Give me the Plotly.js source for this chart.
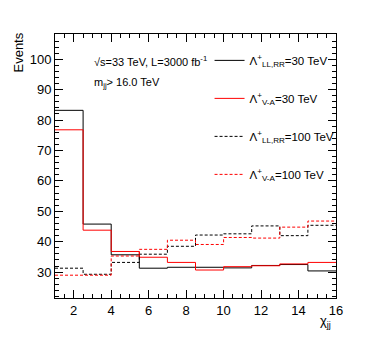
<!DOCTYPE html>
<html>
<head>
<meta charset="utf-8">
<script src="https://cdn.plot.ly/plotly-3.0.1.min.js"></script>
<style>
  body { margin: 0; background: #fff; }
  #chart { width: 374px; height: 351px; }
</style>
</head>
<body>
<div id="chart"></div>
<script>
// bin edges of chi_jj (10 bins, width 1.5)
let binEdges = [1, 2.5, 4, 5.5, 7, 8.5, 10, 11.5, 13, 14.5, 16];

// events per bin
let llrr30 = [83.2, 45.8, 35.7, 31.3, 31.6, 31.6, 31.4, 32.2, 32.5, 30.4];
let va30 = [76.8, 43.8, 36.8, 34.9, 33.2, 30.7, 31.8, 32.1, 32.7, 33.2];
let llrr100 = [31.3, 29.3, 33.2, 35.9, 38.5, 42.2, 42.6, 45.2, 42.0, 45.4];
let va100 = [29.0, 29.0, 35.3, 37.5, 40.5, 39.1, 41.4, 41.2, 44.8, 46.8];

let names = [
  "Λ<sup>+</sup><sub>LL,RR</sub>=30 TeV",
  "Λ<sup>+</sup><sub>V-A</sub>=30 TeV",
  "Λ<sup>+</sup><sub>LL,RR</sub>=100 TeV",
  "Λ<sup>+</sup><sub>V-A</sub>=100 TeV"
];

// step histogram: repeat last value so the step reaches the right edge
function histTrace(vals, name, color, dash, grp) {
  return {
    x: binEdges,
    y: vals.concat([vals[vals.length - 1]]),
    name: name,
    type: "scatter",
    mode: "lines",
    line: { shape: "hv", color: color, width: 1, dash: dash },
    legendgroup: grp,
    hoverinfo: "skip"
  };
}

var data = [
  histTrace(llrr30, names[0], "#000000", "solid", "a"),
  histTrace(va30, names[1], "#ff0000", "solid", "b"),
  histTrace(llrr100, names[2], "#000000", "3px,2px", "c"),
  histTrace(va100, names[3], "#ff0000", "3px,2px", "d")
];

var fam = "Liberation Sans, Arial, sans-serif";
var axisFont = { family: fam, size: 13, color: "#000" };

var layout = {
  width: 374,
  height: 351,
  margin: { l: 55, r: 38, t: 34, b: 53 },
  paper_bgcolor: "#fff",
  plot_bgcolor: "#fff",
  font: axisFont,
  showlegend: true,
  legend: {
    x: 0.55,
    y: 0.955,
    xanchor: "left",
    yanchor: "top",
    bgcolor: "rgba(0,0,0,0)",
    tracegroupgap: 19,
    font: { family: fam, size: 11.5, color: "#000" }
  },
  xaxis: {
    range: [1, 16],
    showgrid: false,
    zeroline: false,
    showline: true,
    linecolor: "#000",
    linewidth: 1,
    mirror: "allticks",
    ticks: "inside",
    ticklen: 8,
    tickcolor: "#000",
    dtick: 2,
    tick0: 0,
    minor: { dtick: 0.5, ticks: "inside", ticklen: 4, tickcolor: "#000", showgrid: false },
    tickfont: axisFont
  },
  yaxis: {
    range: [21.5, 108.3],
    showgrid: false,
    zeroline: false,
    showline: true,
    linecolor: "#000",
    linewidth: 1,
    mirror: "allticks",
    ticks: "inside",
    ticklen: 8,
    tickcolor: "#000",
    dtick: 10,
    tick0: 0,
    minor: { dtick: 2, ticks: "inside", ticklen: 4, tickcolor: "#000", showgrid: false },
    tickfont: axisFont
  },
  annotations: [
    {
      text: "Events",
      xref: "paper", yref: "paper",
      x: -0.13, y: 1.015,
      xanchor: "center", yanchor: "top",
      textangle: -90,
      showarrow: false,
      font: { family: fam, size: 13, color: "#000" }
    },
    {
      text: "χ<sub>jj</sub>",
      xref: "paper", yref: "paper",
      x: 0.964, y: -0.09,
      xanchor: "center", yanchor: "middle",
      showarrow: false,
      font: { family: fam, size: 13, color: "#000" }
    },
    {
      text: "√s=33 TeV, L=3000 fb<sup>-1</sup>",
      xref: "paper", yref: "paper",
      x: 0.13, y: 0.898,
      xanchor: "left", yanchor: "middle",
      showarrow: false,
      font: { family: fam, size: 11, color: "#000" }
    },
    {
      text: "m<sub>jj</sub>> 16.0 TeV",
      xref: "paper", yref: "paper",
      x: 0.13, y: 0.814,
      xanchor: "left", yanchor: "middle",
      showarrow: false,
      font: { family: fam, size: 11, color: "#000" }
    }
  ]
};

Plotly.newPlot("chart", data, layout, { displayModeBar: false, staticPlot: true });
</script>
</body>
</html>
